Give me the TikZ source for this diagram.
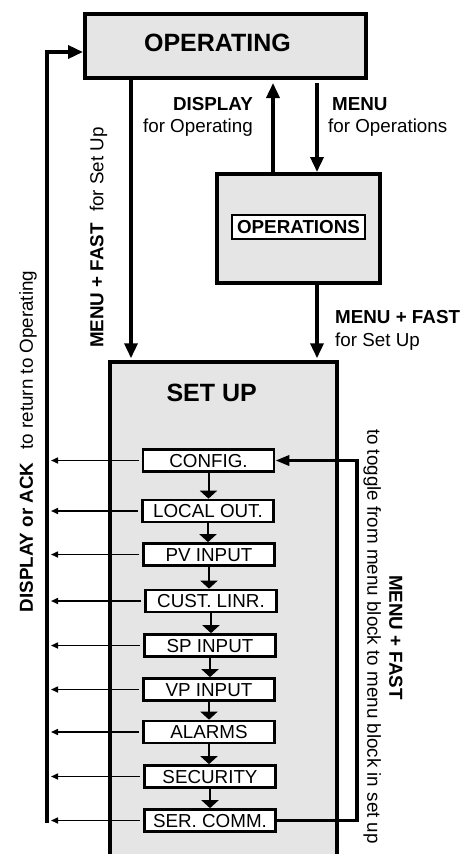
\documentclass[tikz,border=0pt]{standalone}
\usepackage{fontspec}
\setmainfont{Liberation Sans}
\usetikzlibrary{arrows.meta,calc}
\definecolor{boxgray}{RGB}{229,229,229}
\newcommand\dfont{\fontsize{18.8}{21.5}\selectfont}
\newcommand\hfont{\fontsize{25}{30}\selectfont\bfseries}
\begin{document}
\begin{tikzpicture}[x=1pt,y=-1pt,
  every node/.style={font=\dfont},
  bf/.style={font=\dfont\bfseries},
  lbl/.style={inner sep=0pt},
  bigbox/.style={draw, line width=4pt, fill=boxgray, inner sep=0pt},
  menubox/.style={draw, line width=2.7pt, fill=white, inner sep=0pt,
    minimum width=131pt, minimum height=22pt, text height=13.5pt, text depth=0pt},
  bigarr/.style={line width=3.5pt, -{Triangle[length=15pt,width=13pt]}},
  stepar/.style={line width=2pt, -{Triangle[length=8pt,width=17pt]}},
  backar/.style={line width=1.5pt, -{Triangle[length=7pt,width=6pt]}},
  looparr/.style={line width=3.3pt, -{Triangle[length=14pt,width=10pt]}},
  rot/.style={inner sep=0pt, text height=13.5pt, text depth=0pt}
]
\clip (0,0) rectangle (470,854);

% main boxes
\node[bigbox, minimum width=281pt, minimum height=64pt] (op) at (225.5,46) {};
\node[lbl, font=\hfont, anchor=base] (optxt) at (217.5,51.7) {OPERATING};

\node[bigbox, minimum width=163pt, minimum height=109pt] (ops) at (298.5,228.5) {};
\node[draw, line width=2pt, fill=white, inner sep=0pt, minimum width=133pt,
  minimum height=24pt, text height=13.5pt, text depth=0pt, bf] (opsin) at (298.5,227) {OPERATIONS};

\node[bigbox, line width=3.5pt, minimum width=227pt, minimum height=538pt] (setup) at (223.5,631) {};
\node[lbl, font=\hfont, anchor=base] (suptxt) at (211.7,401.7) {SET UP};

% menu blocks
\node[menubox] (cfg) at (208.5,460.5) {CONFIG.};
\node[menubox] (lo)  at (208,511)    {LOCAL OUT.};
\node[menubox] (pv)  at (209,554.5)  {PV INPUT};
\node[menubox] (cl)  at (211,601)    {CUST. LINR.};
\node[menubox] (sp)  at (210,645.5)  {SP INPUT};
\node[menubox] (vp)  at (209,689.5)  {VP INPUT};
\node[menubox] (al)  at (209,732)    {ALARMS};
\node[menubox] (sec) at (210,776.5)  {SECURITY};
\node[menubox] (ser) at (210,820.5)  {SER. COMM.};

% helper coordinates
\coordinate (xa) at (131,0);
\coordinate (xd) at (273,0);
\coordinate (xm) at (317,0);
\coordinate (xl) at (51,0);
\coordinate (xr) at (357,0);
\coordinate (lb) at (47,823);
\coordinate (lt) at (47,52);

% main arrows
\draw[bigarr, shorten >=2pt] (op.south -| xa) -- (setup.north -| xa);
\draw[bigarr, shorten >=3pt] (ops.north -| xd) -- (op.south -| xd);
\draw[bigarr, shorten <=3pt] (op.south -| xm) -- (ops.north -| xm);
\draw[bigarr, shorten >=2pt] (ops.south -| xm) -- (setup.north -| xm);
\draw[bigarr] (lb) -- (lt) -- (lt -| op.west);

% step arrows
\foreach \a/\b in {cfg/lo,lo/pv,pv/cl,cl/sp,sp/vp,vp/al,al/sec,sec/ser}
  \draw[stepar] (\a.south) -- (\a.south |- \b.north);

% back arrows
\foreach \n in {cfg,lo,pv,cl,sp,vp,al,sec,ser}
  \draw[backar, shorten <=3pt] (\n.west) -- (\n.west -| xl);

% toggle loop
\draw[looparr] (ser.east) -- (ser.east -| xr) -- (xr |- cfg.east) -- (cfg.east);

% labels
\node[lbl, bf, anchor=base east] (dispa) at (253,110.7) {DISPLAY};
\node[lbl, anchor=base east] (dispb) at (253,132) {for Operating};
\node[lbl, bf, anchor=base west] (menua) at (332,110.7) {MENU};
\node[lbl, anchor=base west] (menub) at (328,132) {for Operations};
\node[lbl, bf, anchor=base west] (mfa) at (335,323.3) {MENU + FAST};
\node[lbl, anchor=base west] (mfb) at (335,346) {for Set Up};

\node[rot, rotate=90] (ret) at (26,441.5) {\textbf{DISPLAY or ACK}\hspace{0.7em}to return to Operating};
\node[rot, rotate=90] (mfs) at (96.5,237.5) {\textbf{MENU + FAST}\hspace{0.6em}for Set Up};
\node[rot, rotate=-90] (tog) at (374,636.5) {to toggle from menu block to menu block in set up};
\node[rot, bf, rotate=-90] (mf2) at (396,637.5) {MENU + FAST};
\end{tikzpicture}
\end{document}
